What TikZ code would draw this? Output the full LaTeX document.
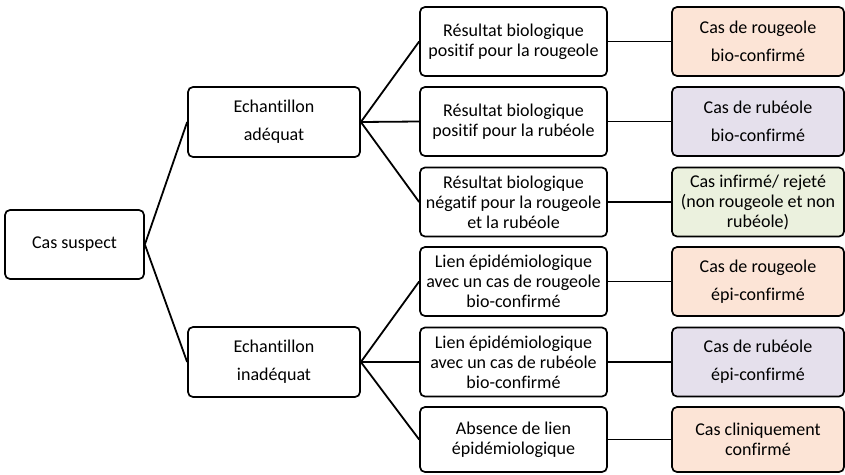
\documentclass[tikz,border=0pt]{standalone}
\usepackage{fontspec}
\setmainfont[Ligatures=NoCommon]{Carlito}
\definecolor{rougeole}{HTML}{FCE4D6}
\definecolor{rubeole}{HTML}{E5E0EC}
\definecolor{infirme}{HTML}{EBF1DE}
\tikzset{every node/.style={font=\fontsize{18}{20}\selectfont},
  box/.style={draw,line width=1.7pt,rounded corners=5pt,align=center,inner sep=1pt},
  sample/.style={box,minimum width=172pt,minimum height=70pt},
  result/.style={box,minimum width=187pt,minimum height=69pt},
  outcome/.style={box,minimum width=172pt,minimum height=69pt},
  link/.style={line width=1.8pt}}
\begin{document}
\begin{tikzpicture}[x=1pt,y=-1pt]
\useasboundingbox(0,0)rectangle(845,474);
\node[box,minimum width=139pt,minimum height=69pt](suspect)at(74.5,244.5){Cas suspect};
\node[sample](adeq)at(274,122){Echantillon\\[8pt]adéquat};
\node[sample](inadeq)at(274,362){Echantillon\\[8pt]inadéquat};
\node[result](rA)at(513.5,41.5){Résultat biologique\\positif pour la rougeole};
\node[result](rB)at(513.5,121.5){Résultat biologique\\positif pour la rubéole};
\node[result](rC)at(513.5,202){Résultat biologique\\négatif pour la rougeole\\et la rubéole};
\node[result](rD)at(513.5,281.5){Lien épidémiologique\\avec un cas de rougeole\\bio-confirmé};
\node[result](rE)at(513.5,362){Lien épidémiologique\\avec un cas de rubéole\\bio-confirmé};
\node[result,minimum height=65pt](rF)at(513.5,439.5){Absence de lien\\épidémiologique};
\node[outcome,fill=rougeole](oA)at(758,41.5){Cas de rougeole\\[8pt]bio-confirmé};
\node[outcome,fill=rubeole](oB)at(758,121.5){Cas de rubéole\\[8pt]bio-confirmé};
\node[outcome,fill=infirme](oC)at(758,202){Cas infirmé/ rejeté\\(non rougeole et non\\rubéole)};
\node[outcome,fill=rougeole](oD)at(758,281.5){Cas de rougeole\\[8pt]épi-confirmé};
\node[outcome,fill=rubeole](oE)at(758,362){Cas de rubéole\\[8pt]épi-confirmé};
\node[outcome,fill=rougeole,minimum height=65pt](oF)at(758,439.5){Cas cliniquement\\confirmé};
\foreach \a/\b in {suspect/adeq,suspect/inadeq,adeq/rA,adeq/rB,adeq/rC,inadeq/rD,inadeq/rE,inadeq/rF,
  rA/oA,rB/oB,rC/oC,rD/oD,rE/oE,rF/oF}
  \draw[link](\a.east)--(\b.west);
\end{tikzpicture}
\end{document}
